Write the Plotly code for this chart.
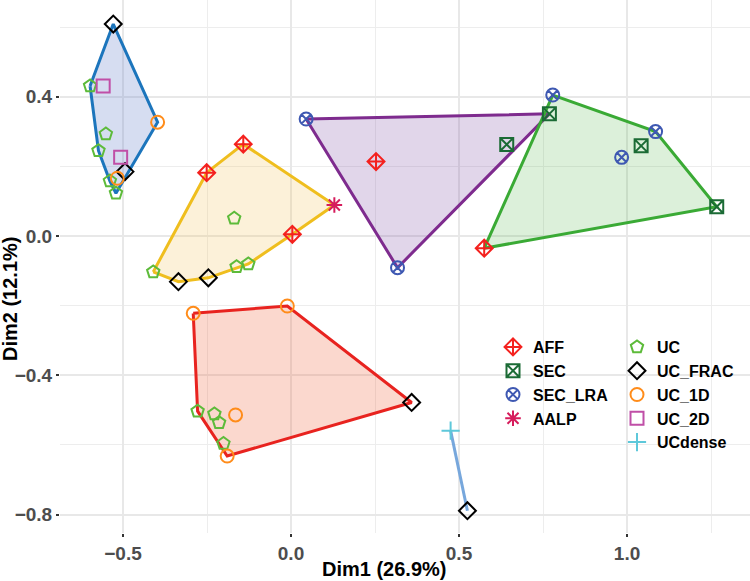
import plotly.graph_objects as go

# ---- data ----
point_x = [-0.529, -0.598, -0.559, -0.397, -0.551, -0.573, -0.507, -0.494, -0.517, -0.539, -0.521,
           -0.142, -0.251, -0.169, 0.004, -0.162, -0.127, -0.410, -0.335, -0.246, 0.129,
           0.045, 0.253, 0.642, 0.317, 0.769,
           0.575, 0.779, 1.085, 1.042, 0.984, 1.267,
           -0.291, -0.011, 0.359, -0.190, -0.201, -0.278, -0.228, -0.214, -0.165,
           0.475, 0.525]
point_y = [0.609, 0.431, 0.431, 0.327, 0.293, 0.245, 0.226, 0.185, 0.166, 0.158, 0.123,
           0.264, 0.182, 0.051, 0.005, -0.088, -0.080, -0.103, -0.131, -0.120, 0.089,
           0.336, 0.214, 0.263, -0.091, 0.351,
           -0.035, 0.405, 0.300, 0.259, 0.226, 0.084,
           -0.222, -0.201, -0.478, -0.632, -0.596, -0.503, -0.511, -0.536, -0.514,
           -0.559, -0.789]
point_type = ["UC_FRAC", "UC", "UC_2D", "UC_1D", "UC", "UC", "UC_2D", "UC_FRAC", "UC_1D", "UC", "UC",
              "AFF", "AFF", "UC", "AFF", "UC", "UC", "UC", "UC_FRAC", "UC_FRAC", "AALP",
              "SEC_LRA", "AFF", "SEC", "SEC_LRA", "SEC",
              "AFF", "SEC_LRA", "SEC_LRA", "SEC", "SEC_LRA", "SEC",
              "UC_1D", "UC_1D", "UC_FRAC", "UC_1D", "UC", "UC", "UC", "UC", "UC_1D",
              "UCdense", "UC_FRAC"]
point_cluster = [1] * 11 + [2] * 10 + [3] * 5 + [4] * 6 + [5] * 9 + [6] * 2

type_names = ["AFF", "SEC", "SEC_LRA", "AALP", "UC", "UC_FRAC", "UC_1D", "UC_2D", "UCdense"]
type_colors = ["#F4211E", "#1B6B35", "#3E58B2", "#D61C5C", "#5DBB3A", "#000000", "#FF8C1A", "#C04FA7", "#5EC8DA"]
type_symbols = ["diamond-cross-open", "square-x-open", "circle-x-open", "asterisk-open", "pentagon-open",
                "diamond-open", "circle-open", "square-open", "cross-thin-open"]
type_legend = ["legend", "legend", "legend", "legend", "legend2", "legend2", "legend2", "legend2", "legend2"]

cluster_ids = [1, 2, 3, 4, 5, 6]
cluster_line = ["#1C75BC", "#EFBE1E", "#7E2B8E", "#3AAA35", "#E8231F", "#77A7DC"]
cluster_fill = ["rgba(90,120,200,0.25)", "rgba(240,190,80,0.22)", "rgba(120,70,160,0.22)",
                "rgba(80,180,70,0.2)", "rgba(240,100,60,0.25)", "rgba(0,0,0,0)"]

x_ticks = [-0.5, 0.0, 0.5, 1.0]
y_ticks = [-0.8, -0.4, 0.0, 0.4]


def convex_hull(pts):
    pts = sorted(set(pts))
    if len(pts) <= 2:
        return pts
    def cross(o, a, b):
        return (a[0] - o[0]) * (b[1] - o[1]) - (a[1] - o[1]) * (b[0] - o[0])
    lower, upper = [], []
    for p in pts:
        while len(lower) >= 2 and cross(lower[-2], lower[-1], p) <= 0:
            lower.pop()
        lower.append(p)
    for p in reversed(pts):
        while len(upper) >= 2 and cross(upper[-2], upper[-1], p) <= 0:
            upper.pop()
        upper.append(p)
    return lower[:-1] + upper[:-1]


fig = go.Figure()

for cid, lc, fc in zip(cluster_ids, cluster_line, cluster_fill):
    pts = [(x, y) for x, y, c in zip(point_x, point_y, point_cluster) if c == cid]
    hull = convex_hull(pts)
    hx = [p[0] for p in hull]
    hy = [p[1] for p in hull]
    if len(hull) > 2:
        hx.append(hx[0]); hy.append(hy[0])
        fig.add_trace(go.Scatter(x=hx, y=hy, mode="lines", fill="toself", fillcolor=fc,
                                 line=dict(color=lc, width=3), showlegend=False, hoverinfo="skip"))
    else:
        fig.add_trace(go.Scatter(x=hx, y=hy, mode="lines",
                                 line=dict(color=lc, width=3), showlegend=False, hoverinfo="skip"))

for name, col, sym, lg in zip(type_names, type_colors, type_symbols, type_legend):
    xs = [x for x, t in zip(point_x, point_type) if t == name]
    ys = [y for y, t in zip(point_y, point_type) if t == name]
    fig.add_trace(go.Scatter(x=xs, y=ys, mode="markers", name=name, legend=lg,
                             marker=dict(symbol=sym, size=13, color=col, line=dict(color=col, width=2))))

W, H = 750, 581
L, R, T, B = 60, 0, 0, 48
pw, ph = W - L - R, H - T - B

FONT = "Liberation Sans, Arial"
axis_common = dict(showgrid=True, gridcolor="#E8E8E8", gridwidth=2, zeroline=False, showline=False,
                   ticks="outside", ticklen=3, tickwidth=2, tickcolor="#333333", automargin=False,
                   tickfont=dict(family=FONT, size=19, color="#4D4D4D", weight="bold"))

fig.update_layout(
    width=W, height=H, margin=dict(l=L, r=R, t=T, b=B),
    paper_bgcolor="white", plot_bgcolor="white",
    xaxis=dict(range=[-0.6875, 1.366], tickvals=x_ticks, ticktext=["\u22120.5", "0.0", "0.5", "1.0"],
               minor=dict(dtick=0.25, tick0=0, showgrid=True, gridcolor="#EDEDED", gridwidth=1.3, ticks=""),
               **axis_common),
    yaxis=dict(range=[-0.853, 0.678], tickvals=y_ticks, ticktext=["\u22120.8", "\u22120.4", "0.0", "0.4"],
               minor=dict(dtick=0.2, tick0=0, showgrid=True, gridcolor="#EDEDED", gridwidth=1.3, ticks=""),
               **axis_common),
    legend=dict(x=(493 - L) / pw, y=1 - (330 - T) / ph, xanchor="left", yanchor="top",
                bgcolor="rgba(0,0,0,0)", tracegroupgap=0,
                font=dict(family=FONT, size=16, color="#000000", weight="bold")),
    legend2=dict(x=(617 - L) / pw, y=1 - (330 - T) / ph, xanchor="left", yanchor="top",
                 bgcolor="rgba(0,0,0,0)", tracegroupgap=0,
                 font=dict(family=FONT, size=16, color="#000000", weight="bold")),
    annotations=[
        dict(text="Dim1 (26.9%)", x=(384 - L) / pw, y=-(569 - (T + ph)) / ph, xref="paper", yref="paper",
             showarrow=False, xanchor="center", yanchor="middle",
             font=dict(family=FONT, size=20, color="#000000", weight="bold")),
        dict(text="Dim2 (12.1%)", x=(10 - L) / pw, y=1 - (299 - T) / ph, xref="paper", yref="paper",
             showarrow=False, xanchor="center", yanchor="middle", textangle=-90,
             font=dict(family=FONT, size=20, color="#000000", weight="bold")),
    ],
)

fig.write_html("out.html", config={"displayModeBar": False},
               post_script="document.body.style.margin='0';document.body.style.padding='0';")
